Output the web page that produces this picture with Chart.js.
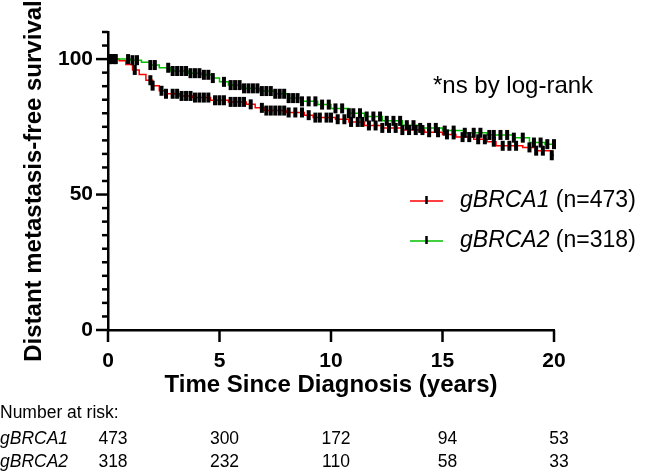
<!DOCTYPE html>
<html>
<head>
<meta charset="utf-8">
<script src="https://cdn.jsdelivr.net/npm/chart.js@4.4.1/dist/chart.umd.min.js"></script>
<style>
  html, body { margin: 0; padding: 0; background: #fff; }
</style>
</head>
<body>
<canvas id="myChart" width="646" height="475"></canvas>
<script>
const fontFam = "'Liberation Sans', Arial, sans-serif";

// curva Kaplan-Meier gBRCA1 (tiempo en años, supervivencia en %)
const brca1Times = [0, 0.5, 0.8, 1.1, 1.4, 1.7, 2.0, 2.3, 2.6, 3.2, 3.8, 4.6, 5.4, 6.2, 6.6, 7.0, 8.0, 8.8, 9.2, 10.2, 10.8, 11.5, 12.3, 13.2, 14.2, 15.0, 15.6, 16.4, 17.0, 17.4, 18.6, 19.2, 19.9, 20];
const brca1Surv  = [100, 99.4, 98, 96, 94.3, 92.2, 90.2, 88.3, 87.2, 86.4, 85.8, 84.8, 84.2, 83.3, 82, 81, 80.3, 79.3, 78.4, 77.8, 76.8, 75.5, 74.6, 73.8, 73, 72.2, 71.2, 70.4, 69.5, 68, 67.4, 66.2, 64.5, 64.5];
// censuras gBRCA1
const brca1Censor = [0.1, 0.3, 1.2, 1.9, 2.0, 2.4, 2.6, 2.9, 3.1, 3.3, 3.5, 3.7, 3.9, 4.1, 4.3, 4.5, 4.8, 5.0, 5.2, 5.5, 5.7, 5.9, 6.1, 6.4, 6.9, 7.1, 7.3, 7.5, 7.7, 7.9, 8.1, 8.4, 8.7, 9.0, 9.3, 9.5, 9.8, 10.0, 10.3, 10.6, 10.9, 11.2, 11.4, 11.7, 12.0, 12.3, 12.6, 12.9, 13.2, 13.5, 13.8, 14.1, 14.4, 14.8, 15.2, 15.5, 15.9, 16.2, 16.6, 16.9, 17.3, 17.7, 18.0, 18.3, 18.9, 19.2, 19.5, 19.9];

// curva gBRCA2
const brca2Times = [0, 1.0, 1.5, 1.9, 2.3, 2.8, 3.6, 4.2, 4.7, 5.0, 5.4, 6.0, 6.8, 7.5, 8.1, 8.7, 9.4, 10.0, 10.8, 11.5, 12.3, 13.2, 14.0, 15.0, 16.0, 17.0, 18.2, 18.9, 19.6, 20];
const brca2Surv  = [100, 99.6, 98.8, 97.8, 96.8, 95.6, 94.8, 94.2, 93, 91.6, 90.4, 89.2, 88.2, 87.2, 85.6, 84.4, 83.2, 81.8, 80, 78.8, 77.2, 75.6, 74.6, 73.6, 72.8, 72.0, 71, 69.2, 68.6, 68.6];
const brca2Censor = [0.05, 0.2, 0.35, 0.9, 1.1, 1.3, 1.9, 2.1, 2.7, 2.9, 3.1, 3.3, 3.5, 3.7, 3.9, 4.1, 4.3, 4.5, 4.7, 5.2, 5.5, 5.7, 5.9, 6.1, 6.3, 6.5, 6.7, 6.9, 7.1, 7.3, 7.5, 7.7, 7.9, 8.1, 8.3, 8.5, 8.7, 9.0, 9.3, 9.6, 9.9, 10.2, 10.5, 10.8, 11.0, 11.3, 11.6, 11.9, 12.2, 12.5, 12.8, 13.1, 13.4, 13.7, 14.0, 14.4, 14.7, 15.1, 15.5, 16.0, 16.4, 16.7, 17.1, 17.3, 17.6, 17.9, 18.2, 18.6, 19.1, 19.4, 19.7, 20.0];

// tabla de pacientes en riesgo
const riskTimes = [0, 5, 10, 15, 20];
const brca1Risk = [473, 300, 172, 94, 53];
const brca2Risk = [318, 232, 110, 58, 33];

const yLabels = [0, 50, 100];

// valor de la curva escalonada en el tiempo t
function survAt(times, surv, t) {
  let s = surv[0];
  for (let i = 0; i < times.length; i++) {
    if (times[i] <= t) s = surv[i];
  }
  return s;
}

const extras = {
  id: "extras",
  afterDraw(chart) {
    const c = chart.ctx;
    const xs = chart.scales.x;
    const ys = chart.scales.y;
    const area = chart.chartArea;
    c.save();
    c.strokeStyle = "#000";
    c.lineWidth = 2.5;
    // marcas del eje y (mayores y menores)
    ys.ticks.forEach(t => {
      const py = ys.getPixelForValue(t.value);
      const len = yLabels.includes(t.value) ? 12 : 6;
      c.beginPath();
      c.moveTo(area.left - len, py);
      c.lineTo(area.left, py);
      c.stroke();
    });
    // marcas del eje x
    xs.ticks.forEach(t => {
      const px = xs.getPixelForValue(t.value);
      c.beginPath();
      c.moveTo(px, area.bottom);
      c.lineTo(px, area.bottom + 12);
      c.stroke();
    });

    // leyenda
    const legend = [
      { name: "gBRCA1", n: " (n=473)", color: "#ff0000", y: 201 },
      { name: "gBRCA2", n: " (n=318)", color: "#00c000", y: 241 }
    ];
    c.textBaseline = "middle";
    legend.forEach(l => {
      c.strokeStyle = l.color;
      c.lineWidth = 1.5;
      c.beginPath();
      c.moveTo(410, l.y);
      c.lineTo(443, l.y);
      c.stroke();
      c.strokeStyle = "#000";
      c.lineWidth = 2.5;
      c.beginPath();
      c.moveTo(426.5, l.y - 5);
      c.lineTo(426.5, l.y + 3);
      c.stroke();
      c.fillStyle = "#000";
      c.textAlign = "left";
      c.font = "italic 23px " + fontFam;
      c.fillText(l.name, 460, l.y);
      const w = c.measureText(l.name).width;
      c.font = "23px " + fontFam;
      c.fillText(l.n, 460 + w, l.y);
    });

    // nota
    c.font = "24px " + fontFam;
    c.fillText("*ns by log-rank", 433, 86);

    // número en riesgo
    c.font = "17.5px " + fontFam;
    c.fillText("Number at risk:", 0, 413);
    c.font = "italic 17.5px " + fontFam;
    c.fillText("gBRCA1", 0, 439);
    c.fillText("gBRCA2", 0, 462);
    c.font = "17.5px " + fontFam;
    c.textAlign = "center";
    riskTimes.forEach((t, i) => {
      const px = xs.getPixelForValue(t) + 5;
      c.fillText(String(brca1Risk[i]), px, 439);
      c.fillText(String(brca2Risk[i]), px, 462);
    });
    c.restore();
  }
};

const ctx = document.getElementById("myChart");

new Chart(ctx, {
  type: "line",
  data: {
    datasets: [
      {
        label: "gBRCA1",
        data: brca1Times.map((t, i) => ({ x: t, y: brca1Surv[i] })),
        borderColor: "#ff0000",
        borderWidth: 1.5,
        stepped: true,
        pointRadius: 0,
        fill: false,
        order: 2,
      },
      {
        label: "gBRCA2",
        data: brca2Times.map((t, i) => ({ x: t, y: brca2Surv[i] })),
        borderColor: "#00c000",
        borderWidth: 1.5,
        stepped: true,
        pointRadius: 0,
        fill: false,
        order: 1,
      },
      {
        label: "censor1",
        data: brca1Censor.map(t => ({ x: t, y: survAt(brca1Times, brca1Surv, t) })),
        showLine: false,
        pointStyle: "line",
        rotation: 90,
        pointRadius: 5,
        pointBorderWidth: 4,
        pointBorderColor: "#000",
        clip: false,
        order: 0,
      },
      {
        label: "censor2",
        data: brca2Censor.map(t => ({ x: t, y: survAt(brca2Times, brca2Surv, t) })),
        showLine: false,
        pointStyle: "line",
        rotation: 90,
        pointRadius: 5,
        pointBorderWidth: 4,
        pointBorderColor: "#000",
        clip: false,
        order: 0,
      },
    ],
  },
  options: {
    responsive: false,
    animation: false,
    devicePixelRatio: 1,
    layout: { padding: { top: 32, right: 92, bottom: 75, left: 0 } },
    plugins: { legend: { display: false }, tooltip: { enabled: false } },
    scales: {
      x: {
        type: "linear",
        min: 0,
        max: 20,
        border: { color: "#000", width: 2.5 },
        grid: { display: false, drawTicks: false },
        ticks: { stepSize: 5, padding: 19, color: "#000", font: { family: fontFam, size: 21, weight: "bold" } },
        title: { display: true, text: "Time Since Diagnosis (years)", color: "#000", padding: 0, font: { family: fontFam, size: 24, weight: "bold" } },
        afterFit(s) { s.height = 70; },
      },
      y: {
        min: 0,
        max: 110,
        border: { color: "#000", width: 2.5 },
        grid: { display: false, drawTicks: false },
        ticks: {
          stepSize: 5,
          autoSkip: false,
          padding: 15,
          color: "#000",
          font: { family: fontFam, size: 21, weight: "bold" },
          callback: v => (yLabels.includes(v) ? v : ""),
        },
        title: { display: true, text: "Distant metastasis-free survival", color: "#000", padding: { top: 20, bottom: 0 }, font: { family: fontFam, size: 24, weight: "bold" } },
        afterFit(s) { s.width = 108; },
      },
    },
  },
  plugins: [extras],
});
</script>
</body>
</html>
